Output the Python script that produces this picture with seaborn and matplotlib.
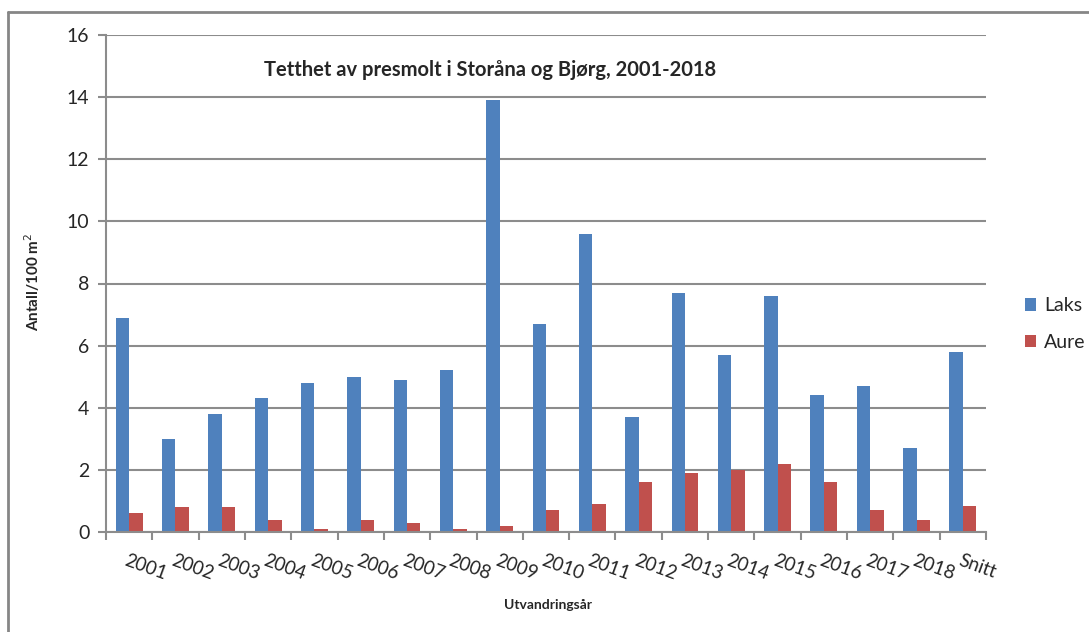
import matplotlib
matplotlib.use("Agg")
import matplotlib.pyplot as plt
import seaborn as sns
import pandas as pd
from matplotlib.lines import Line2D
from matplotlib.patches import Patch
import matplotlib.transforms as mtransforms

categories = ["2001", "2002", "2003", "2004", "2005", "2006", "2007", "2008", "2009",
              "2010", "2011", "2012", "2013", "2014", "2015", "2016", "2017", "2018", "Snitt"]
laks = [6.9, 3.0, 3.8, 4.3, 4.8, 5.0, 4.9, 5.2, 13.9, 6.7, 9.6, 3.7, 7.7, 5.7, 7.6, 4.4, 4.7, 2.7, 5.8]
aure = [0.6, 0.8, 0.8, 0.4, 0.1, 0.4, 0.3, 0.1, 0.2, 0.7, 0.9, 1.6, 1.9, 2.0, 2.2, 1.6, 0.7, 0.4, 0.85]
series = ["Laks", "Aure"]
yticks = [0, 2, 4, 6, 8, 10, 12, 14, 16]

df = pd.DataFrame({
    "år": categories * 2,
    "verdi": laks + aure,
    "serie": [series[0]] * len(categories) + [series[1]] * len(categories),
})

sns.set_theme(style="white")
plt.rcParams["font.family"] = ["Lato", "DejaVu Sans"]

fig = plt.figure(figsize=(10.89, 6.32), dpi=100)
ax = fig.add_axes([106 / 1089, 100 / 632, 880 / 1089, 497 / 632])

colors = {"Laks": "#4F81BD", "Aure": "#C0504D"}
sns.barplot(data=df, x="år", y="verdi", hue="serie", order=categories,
            hue_order=series, palette=colors, width=0.58, ax=ax,
            saturation=1, legend=False, edgecolor="none")

grid_col = "#8C8C8C"
ax.set_ylim(0, 16)
ax.set_xlim(-0.5, len(categories) - 0.5)
ax.set_yticks(yticks)
ax.set_yticklabels([str(t) for t in yticks], fontsize=14)
ax.yaxis.grid(True, color=grid_col, linewidth=1.5)
ax.set_axisbelow(True)
for side in ["top", "right"]:
    ax.spines[side].set_visible(False)
for side in ["left", "bottom"]:
    ax.spines[side].set_color(grid_col)
    ax.spines[side].set_linewidth(1.5)

ax.tick_params(axis="y", which="both", left=True, length=6, width=1.5, color=grid_col, pad=6)
# x major ticks at category boundaries
ax.set_xticks([i - 0.5 for i in range(len(categories) + 1)])
ax.set_xticklabels([])
ax.tick_params(axis="x", which="major", bottom=True, length=6, width=1.5, color=grid_col)
ax.set_xticks(range(len(categories)), minor=True)
ax.set_xticklabels(categories, minor=True, fontsize=13.5, rotation=-20,
                   ha="left", va="top", rotation_mode="anchor")
ax.tick_params(axis="x", which="minor", bottom=False, length=0, pad=14)
offset = mtransforms.ScaledTranslation(-1 / 100, 0, fig.dpi_scale_trans)
for lbl in ax.xaxis.get_minorticklabels():
    lbl.set_transform(lbl.get_transform() + offset)

ax.set_xlabel("")
ax.set_ylabel("")
fig.text(32 / 1089, 1 - 282 / 632, "Antall/100 m$^2$", rotation=90, ha="center",
         va="center", fontsize=11, fontweight="bold")
fig.text(548 / 1089, 1 - 605 / 632, "Utvandringsår", ha="center", va="center",
         fontsize=10, fontweight="bold")
fig.text(490 / 1089, 1 - 70 / 632, "Tetthet av presmolt i Storåna og Bjørg, 2001-2018",
         ha="center", va="center", fontsize=14.5, fontweight="bold")

handles = [Patch(facecolor=colors[s], edgecolor="none", label=s) for s in series]
fig.legend(handles=handles, loc="center left", bbox_to_anchor=(1007 / 1089, 1 - 324 / 632),
           frameon=False, fontsize=14, handlelength=0.6, handleheight=0.6,
           handletextpad=0.4, labelspacing=1.0)

# outer chart frame (top and left visible)
fig.add_artist(Line2D([8 / 1089, 1.0], [1 - 12 / 632, 1 - 12 / 632],
                      transform=fig.transFigure, color="#868686", linewidth=2))
fig.add_artist(Line2D([8 / 1089, 8 / 1089], [0, 1 - 12 / 632],
                      transform=fig.transFigure, color="#868686", linewidth=2))

fig.savefig("out.png", dpi=100, facecolor="white")
